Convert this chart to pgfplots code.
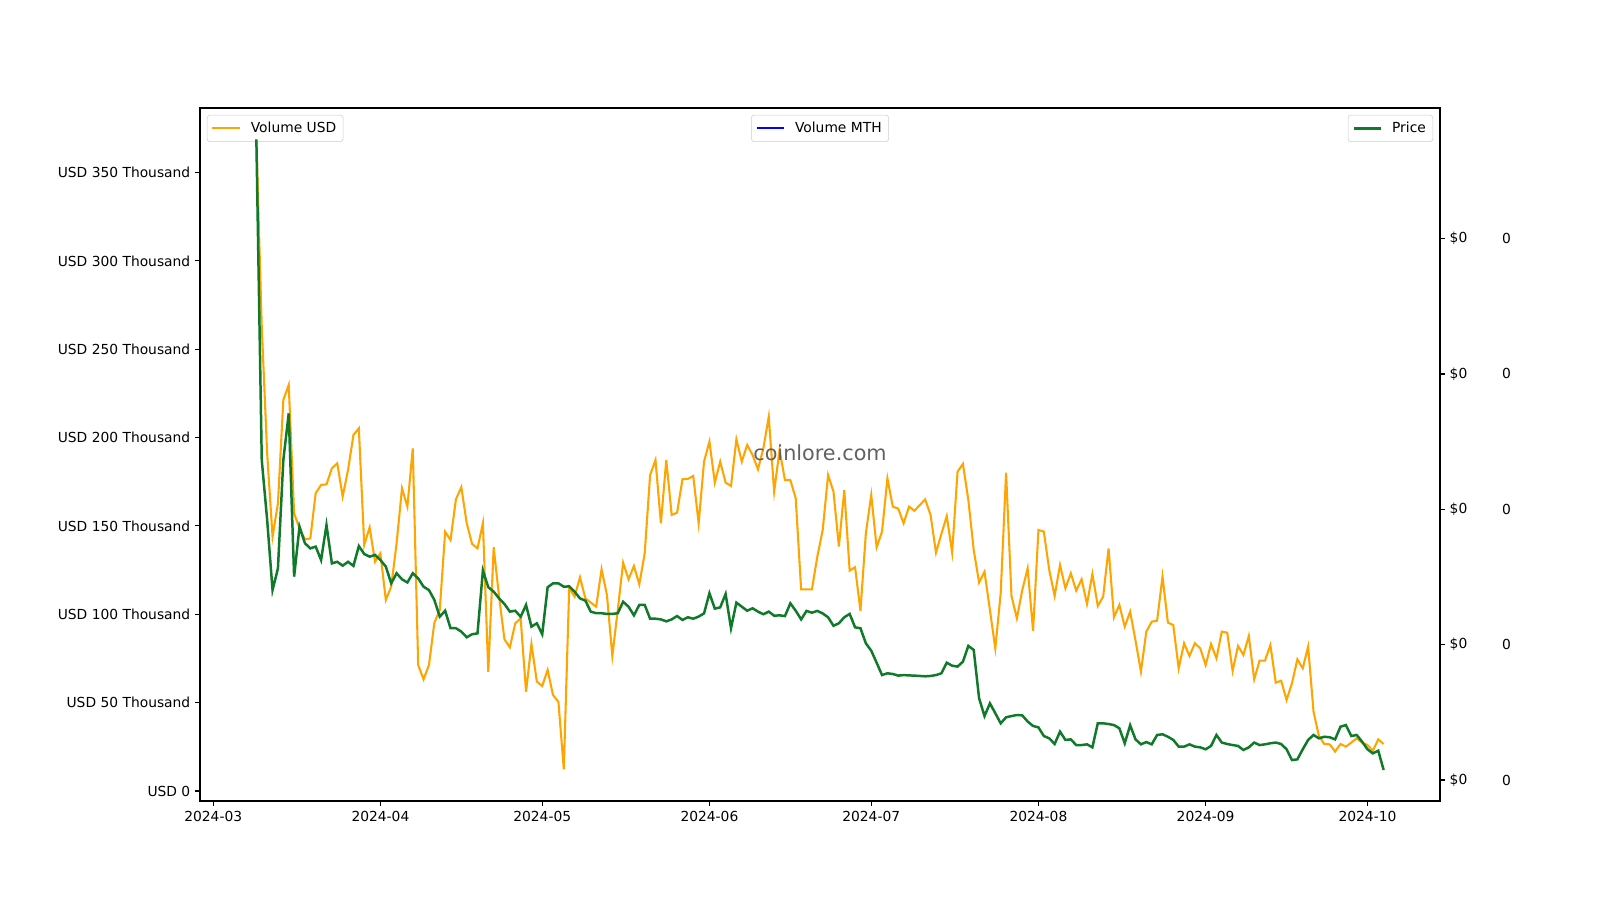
\documentclass[border=0pt]{standalone}
\usepackage{fontspec}
\setmainfont{DejaVu Sans}
\usepackage{pgfplots}
\pgfplotsset{compat=1.18}
\usepackage{pgfplotstable}
\definecolor{volorange}{HTML}{FFA500}
\definecolor{pricegreen}{HTML}{107A2A}
\definecolor{mthblue}{HTML}{0000FF}
% day = days since 2024-03-01; vol = volume in thousand USD; price = price (plotted on its own right axis)
\pgfplotstableread{
day vol price
8 368.8 368.8
9 262.8 187.3
10 191.1 153.4
11 143.9 113.7
12 162.8 126.0
13 221.3 187.3
14 229.8 213.7
15 157.1 121.3
16 148.6 149.6
17 142.4 140.2
18 142.9 137.3
19 168.5 138.3
20 173.2 130.7
21 173.5 150.5
22 182.6 128.8
23 185.4 129.7
24 166.6 127.5
25 181.7 129.7
26 201.5 127.4
27 205.2 138.6
28 139.2 134.1
29 149.2 132.6
30 129.7 133.6
31 134.5 130.7
32 108.1 127.0
33 115.6 117.5
34 140.2 123.2
35 171.3 119.8
36 160.9 118.0
37 193.9 123.2
38 71.3 120.3
39 63.2 115.6
40 71.3 113.7
41 95.2 108.1
42 102.4 98.7
43 146.7 102.0
44 142.0 92.1
45 165.1 92.1
46 171.9 90.2
47 151.5 87.0
48 139.8 88.7
49 137.3 89.2
50 151.5 124.7
51 67.5 115.3
52 137.9 112.8
53 110.0 109.0
54 85.8 105.8
55 81.3 101.5
56 94.9 102.0
57 97.7 98.6
58 56.2 105.3
59 83.2 93.0
60 61.9 94.9
61 59.4 88.7
62 68.5 115.3
63 54.3 117.5
64 50.5 117.5
65 12.3 115.6
66 115.0 115.8
67 110.0 112.8
68 120.9 109.0
69 109.0 107.7
70 106.6 101.5
71 104.3 100.6
72 125.5 100.6
73 110.9 100.2
74 76.4 100.2
75 102.4 100.6
76 129.2 107.1
77 119.8 104.3
78 127.3 99.4
79 117.0 105.3
80 134.5 105.3
81 178.8 97.5
82 187.3 97.5
83 151.5 97.1
84 187.3 96.0
85 156.2 97.1
86 157.5 99.0
87 176.4 96.8
88 176.6 98.3
89 178.3 97.5
90 151.5 98.7
91 186.4 100.5
92 197.7 111.9
93 174.5 103.2
94 186.4 103.9
95 174.5 111.5
96 172.6 92.1
97 199.0 106.6
98 186.4 104.3
99 195.8 102.0
100 190.1 103.4
101 182.0 101.5
102 193.9 100.0
103 211.8 101.5
104 169.4 99.2
105 193.0 99.4
106 176.0 99.0
107 176.0 106.2
108 165.6 102.0
109 114.1 97.1
110 114.1 101.9
111 114.1 100.9
112 132.6 101.9
113 147.7 100.5
114 178.8 98.3
115 169.4 93.5
116 138.3 94.9
117 170.3 98.3
118 124.7 100.2
119 126.6 92.6
120 102.0 92.1
121 145.8 83.6
122 167.5 79.4
123 137.9 72.6
124 146.8 65.6
125 176.9 66.6
126 160.9 66.2
127 159.8 65.3
128 151.5 65.6
129 160.9 65.4
130 158.6 65.3
131 161.8 65.1
132 165.0 64.9
133 156.2 65.1
134 134.9 65.6
135 145.4 66.6
136 155.6 72.6
137 134.9 70.9
138 180.7 70.4
139 185.1 73.2
140 164.7 82.1
141 136.4 79.8
142 117.9 52.4
143 124.1 42.4
144 102.4 49.6
145 80.7 44.0
146 111.9 38.3
147 180.1 41.7
148 110.4 42.4
149 97.7 43.0
150 113.7 42.8
151 126.0 39.3
152 90.7 36.8
153 147.7 36.0
154 146.8 31.1
155 125.1 29.8
156 110.4 26.6
157 127.9 33.6
158 114.7 28.9
159 123.2 29.2
160 113.4 26.0
161 119.8 26.0
162 105.8 26.4
163 122.8 24.7
164 104.7 38.3
165 110.0 38.3
166 137.3 37.9
167 98.3 37.3
168 105.3 35.5
169 93.0 27.0
170 101.5 37.2
171 85.1 29.2
172 67.5 26.4
173 90.2 27.7
174 95.8 26.4
175 96.4 31.7
176 121.3 32.1
177 95.3 30.7
178 93.9 28.9
179 69.4 25.1
180 83.6 25.1
181 76.4 26.4
182 83.6 25.1
183 80.7 24.7
184 71.3 23.6
185 83.2 25.5
186 75.1 31.7
187 90.2 27.4
188 89.6 26.6
189 67.9 26.0
190 82.1 25.5
191 77.0 23.2
192 87.7 24.7
193 63.2 27.4
194 73.8 26.0
195 73.8 26.4
196 82.6 27.0
197 61.3 27.4
198 62.4 26.6
199 51.5 23.6
200 60.9 17.5
201 74.5 17.9
202 69.4 23.6
203 81.7 28.9
204 44.9 31.7
205 31.1 29.8
206 26.6 30.7
207 26.4 30.4
208 22.3 29.2
209 26.6 36.4
210 25.1 37.3
211 27.4 31.1
212 29.8 31.7
213 27.4 27.9
214 26.0 23.6
215 22.8 21.3
216 29.2 22.8
217 26.6 11.9
}\chartdata
\pgfplotsset{
  base/.style={
    at={(2in,0.99in)}, anchor=south west, scale only axis,
    width=12.4in, height=6.93in,
    xmin=-2.45, xmax=227.45, ymin=-5.66, ymax=386.5,
    tick align=outside, major tick length=3.5pt,
    tick style={line width=0.8pt, black},
    axis line style={line width=0.8pt},
    tick label style={font=\fontsize{10}{12}\selectfont},
    legend style={font=\fontsize{10}{12}\selectfont, draw=black!20, rounded corners=2pt,
      fill=white, fill opacity=0.8, text opacity=1, draw opacity=1,
      inner xsep=3pt, inner ysep=3pt,
      /tikz/every odd column/.append style={column sep=5pt}},
    legend cell align=left,
    legend image code/.code={\draw[##1] (0pt,0pt) -- (20pt,0pt);},
  },
}
\begin{document}
\begin{tikzpicture}
\useasboundingbox (0,0) rectangle (16in,9in);
\begin{axis}[base,
  xtick={0,31,61,92,122,153,184,214},
  xticklabels={2024-03,2024-04,2024-05,2024-06,2024-07,2024-08,2024-09,2024-10},
  ytick={0,50,100,150,200,250,300,350},
  yticklabels={USD 0,USD 50 Thousand,USD 100 Thousand,USD 150 Thousand,USD 200 Thousand,USD 250 Thousand,USD 300 Thousand,USD 350 Thousand},
  xtick pos=left, ytick pos=left,
  legend style={at={(0.0056,0.99)}, anchor=north west},
]
\addplot[volorange, line width=1.5pt] table[x=day,y=vol]{\chartdata};
\addlegendentry{Volume USD}
\end{axis}
\begin{axis}[base,
  axis x line=none, axis y line*=right,
  y axis line style={draw=none},
  ytick={6.2,82.8,159.4,236.0,312.6},
  yticklabels={0,0,0,0,0},
  major tick length=0pt,
  yticklabel style={xshift=41.3pt},
  legend style={at={(0.5,0.99)}, anchor=north},
]
\addlegendimage{mthblue, line width=1.5pt}
\addlegendentry{Volume MTH}
\end{axis}
\begin{axis}[base,
  axis x line=none, axis y line*=right,
  ytick={6.2,82.8,159.4,236.0,312.6},
  yticklabels={\$0,\$0,\$0,\$0,\$0},
  legend style={at={(0.9944,0.99)}, anchor=north east},
]
\addplot[pricegreen, line width=1.8pt] table[x=day,y=price]{\chartdata};
\addlegendentry{Price}
\node[text=black!62, font=\fontsize{15}{18}\selectfont, yshift=1.5pt] at (rel axis cs:0.5,0.5) {coinlore.com};
\end{axis}
\end{tikzpicture}
\end{document}
